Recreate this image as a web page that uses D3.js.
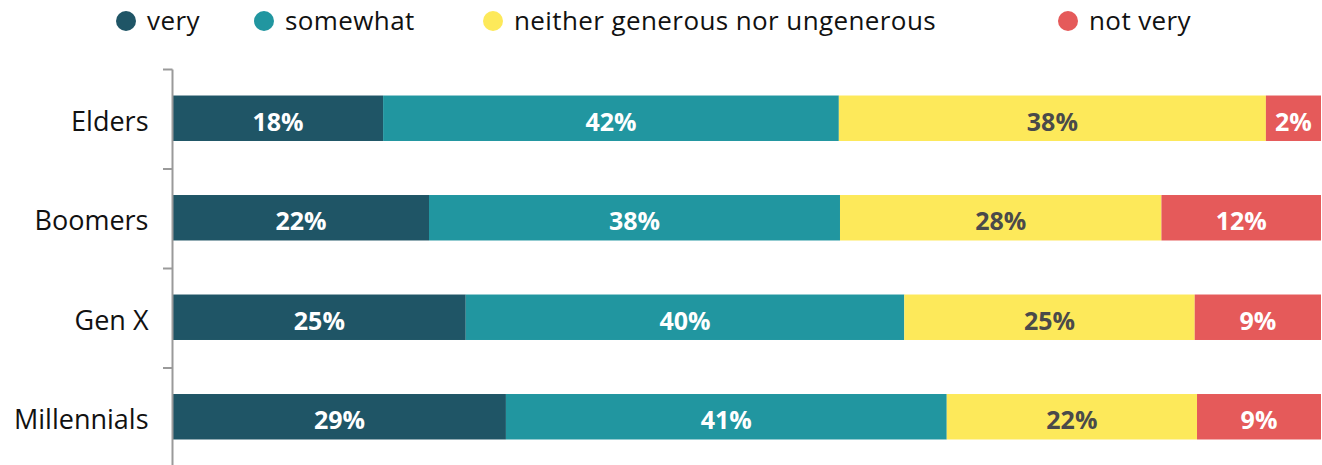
<!DOCTYPE html>
<html><head><meta charset="utf-8">
<script src="https://cdn.jsdelivr.net/npm/d3@7/dist/d3.min.js"></script>
<style>
body{margin:0;background:#fff;}
svg{display:block;}
</style></head>
<body><svg id="c" width="1322" height="465"></svg>
<script>
const categories = ["Elders","Boomers","Gen X","Millennials"];
const seriesNames = ["very","somewhat","neither generous nor ungenerous","not very"];
const colors = ["#1f5566","#2196a0","#fde95a","#e55a5a"];
const labelColors = ["#ffffff","#ffffff","#4a4a4a","#ffffff"];
// segment shares as drawn
const very      = [18.3, 22.3, 25.5, 29.0];
const somewhat  = [39.7, 35.8, 38.2, 38.4];
const neither   = [37.2, 28.0, 25.3, 21.8];
const notVery   = [4.8, 13.9, 11.0, 10.8];
// printed labels
const veryLbl     = ["18%","22%","25%","29%"];
const somewhatLbl = ["42%","38%","40%","41%"];
const neitherLbl  = ["38%","28%","25%","22%"];
const notVeryLbl  = ["2%","12%","9%","9%"];

const series = [very, somewhat, neither, notVery];
const labels = [veryLbl, somewhatLbl, neitherLbl, notVeryLbl];

const svg = d3.select("#c");
const x = d3.scaleLinear().domain([0,100]).range([173,1321]);
const y = d3.scaleBand().domain(categories).range([68.5,466.5]).paddingInner(0.543).paddingOuter(0.2715);

const rows = categories.map((c,i)=>{
  let acc=0;
  return series.map((s,k)=>{const d={cat:c,k,x0:acc,x1:acc+s[i],label:labels[k][i]};acc+=s[i];return d;});
});
const segs = rows.flat();

svg.append("g").selectAll("rect").data(segs).join("rect")
  .attr("x",d=>x(d.x0)).attr("width",d=>x(d.x1)-x(d.x0))
  .attr("y",d=>y(d.cat)).attr("height",y.bandwidth())
  .attr("fill",d=>colors[d.k]);

svg.append("g").selectAll("text").data(segs).join("text")
  .attr("x",d=>(x(d.x0)+x(d.x1))/2).attr("y",d=>y(d.cat)+y.bandwidth()/2+3.5)
  .attr("dy","0.36em").attr("text-anchor","middle")
  .attr("font-family","'Open Sans', sans-serif").attr("font-weight","bold").attr("font-size",25)
  .attr("fill",d=>labelColors[d.k]).text(d=>d.label);

// axis
const ax = svg.append("g").attr("transform","translate(172.5,4)")
  .call(d3.axisLeft(y).tickSize(0).tickPadding(24));
ax.select(".domain").remove();
ax.selectAll("text").attr("font-family","'Open Sans', sans-serif").attr("font-size",27).attr("fill","#111");
const step = y.step();
const edges = d3.range(categories.length+1).map(i=>y.range()[0]+i*step);
const axg = svg.append("g").attr("stroke","#9a9a9a").attr("stroke-width",2);
axg.append("line").attr("x1",172.5).attr("x2",172.5).attr("y1",edges[0]+1).attr("y2",465);
axg.selectAll("line.t").data(edges).join("line").attr("class","t")
  .attr("x1",163).attr("x2",172.5).attr("y1",d=>d+1).attr("y2",d=>d+1);

// legend
const legX = [126, 264, 493, 1068];
const lg = svg.append("g").selectAll("g").data(seriesNames).join("g")
  .attr("transform",(d,i)=>`translate(${legX[i]},21)`);
lg.append("circle").attr("r",10).attr("fill",(d,i)=>colors[i]);
lg.append("text").attr("x",21).attr("dy","0.33em")
  .attr("font-family","'Open Sans', sans-serif").attr("font-size",26).attr("letter-spacing",0.4)
  .attr("fill","#111").text(d=>d);
</script></body></html>
